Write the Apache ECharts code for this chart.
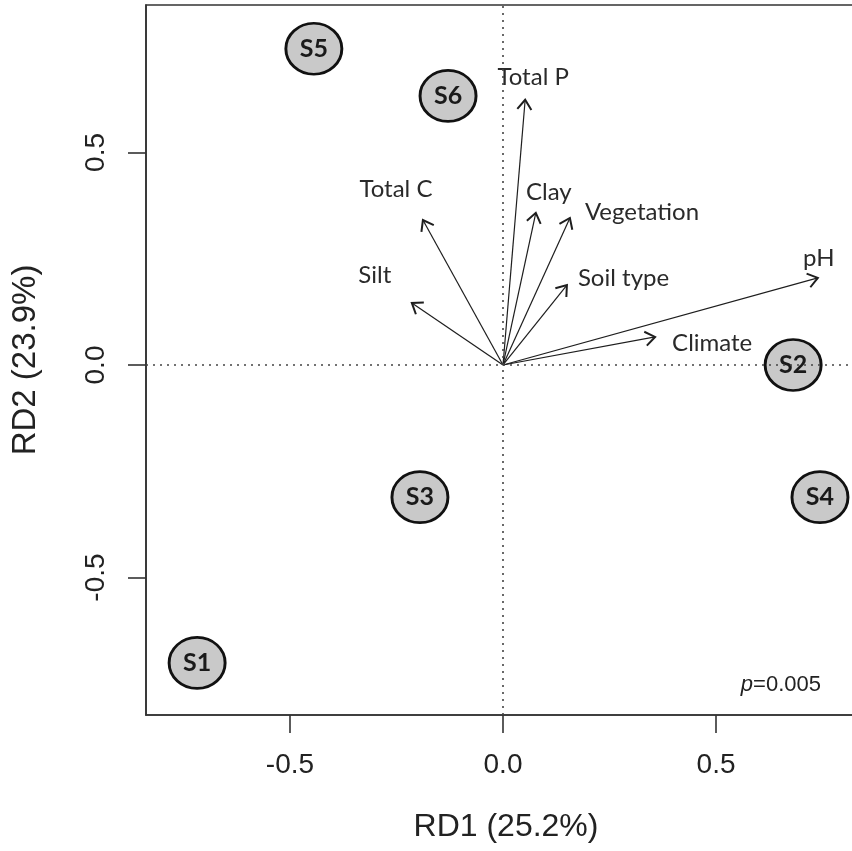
<!DOCTYPE html>
<html>
<head>
<meta charset="utf-8">
<title>RDA biplot</title>
<script src="https://cdn.jsdelivr.net/npm/echarts@6/dist/echarts.min.js"></script>
<style>
  html, body { margin: 0; padding: 0; background: #fff; }
  #chart { width: 852px; height: 851px; }
</style>
</head>
<body>
<div id="chart"></div>
<script>
// Site scores on the first two redundancy axes
const siteNames = ['S1', 'S2', 'S3', 'S4', 'S5', 'S6'];
const siteRD1 = [-0.718, 0.681, -0.195, 0.744, -0.444, -0.129];
const siteRD2 = [-0.701, 0.000, -0.311, -0.311, 0.744, 0.633];

// Environmental variable vectors (arrow tips)
const varNames = ['Total P', 'Clay', 'Vegetation', 'Soil type', 'pH', 'Climate', 'Total C', 'Silt'];
const varRD1 = [0.052, 0.077, 0.157, 0.150, 0.739, 0.357, -0.188, -0.214];
const varRD2 = [0.624, 0.358, 0.346, 0.188, 0.205, 0.066, 0.341, 0.146];

// Axis ticks and annotations
const tickValues = [-0.5, 0.0, 0.5];
const xTitle = 'RD1 (25.2%)';
const yTitle = 'RD2 (23.9%)';
const pText = '0.005';

// Label placement next to each arrow tip (pixels: dx, dy, alignment)
const vectorLabelLayout = {
  'Total P':   [8, -23, 'center'],
  'Clay':      [13, -21, 'center'],
  'Vegetation':[15, -6, 'left'],
  'Soil type': [11, -7, 'left'],
  'pH':        [1, -20, 'center'],
  'Climate':   [17, 6, 'left'],
  'Total C':   [-27, -31, 'center'],
  'Silt':      [-37, -28, 'center']
};

const sites = siteNames.map((n, i) => ({ name: n, value: [siteRD1[i], siteRD2[i]] }));
const vectors = varNames.map((n, i) => ({ name: n, value: [varRD1[i], varRD2[i]] }));

const axisFont = '"Liberation Sans", Arial, sans-serif';
const plotFont = 'Lato, "Open Sans", sans-serif';

function renderVector(params, api) {
  const o = api.coord([0, 0]);
  const t = api.coord([api.value(0), api.value(1)]);
  const ang = Math.atan2(t[1] - o[1], t[0] - o[0]);
  const arm = 12, spread = Math.PI / 5;
  const a1 = [t[0] - arm * Math.cos(ang - spread), t[1] - arm * Math.sin(ang - spread)];
  const a2 = [t[0] - arm * Math.cos(ang + spread), t[1] - arm * Math.sin(ang + spread)];
  const name = varNames[params.dataIndex];
  const lay = vectorLabelLayout[name];
  return {
    type: 'group',
    children: [
      { type: 'line', shape: { x1: o[0], y1: o[1], x2: t[0], y2: t[1] },
        style: { stroke: '#1e1e1e', lineWidth: 1.2 } },
      { type: 'polyline', shape: { points: [a1, t, a2] },
        style: { stroke: '#1e1e1e', lineWidth: 2, fill: null, lineJoin: 'miter' } },
      { type: 'text',
        style: { text: name, x: t[0] + lay[0], y: t[1] + lay[1], align: lay[2], verticalAlign: 'middle',
                 fill: '#2a2a2a', font: '24px ' + plotFont } }
    ]
  };
}

const chart = echarts.init(document.getElementById('chart'), null, { renderer: 'canvas' });

chart.setOption({
  animation: false,
  backgroundColor: '#ffffff',
  grid: {
    left: 146, top: 5, width: 740, height: 710,
    outerBoundsMode: 'none', containLabel: false,
    show: true, borderColor: '#333', borderWidth: 1.6, backgroundColor: 'transparent'
  },
  xAxis: {
    type: 'value', min: -0.838, max: 0.899,
    name: xTitle, nameLocation: 'middle', nameGap: 96,
    nameTextStyle: { fontFamily: axisFont, fontSize: 32, color: '#222', padding: [0, 20, 0, 0] },
    axisLine: { show: true, onZero: false, lineStyle: { color: '#333', width: 1.6 } },
    axisTick: { show: true, inside: false, length: 18, customValues: tickValues, lineStyle: { color: '#333', width: 1.6 } },
    axisLabel: { customValues: tickValues, margin: 36, fontFamily: axisFont, fontSize: 28, color: '#222',
                 formatter: v => v.toFixed(1) },
    splitLine: { show: false }
  },
  yAxis: {
    type: 'value', min: -0.8235, max: 0.847,
    name: yTitle, nameLocation: 'middle', nameGap: 104, nameRotate: 90,
    nameTextStyle: { fontFamily: axisFont, fontSize: 33, color: '#222' },
    axisLine: { show: true, onZero: false, lineStyle: { color: '#333', width: 1.6 } },
    axisTick: { show: true, inside: false, length: 18, customValues: tickValues, lineStyle: { color: '#333', width: 1.6 } },
    axisLabel: { customValues: tickValues, margin: 36, rotate: 90, fontFamily: axisFont, fontSize: 28, color: '#222',
                 formatter: v => v.toFixed(1) },
    splitLine: { show: false }
  },
  series: [
    {
      type: 'custom',
      name: 'variables',
      data: vectors,
      renderItem: renderVector,
      clip: false,
      z: 2
    },
    {
      type: 'scatter',
      name: 'sites',
      data: sites,
      symbol: 'circle',
      symbolSize: [56, 51],
      itemStyle: { color: '#c9c9c9', borderColor: '#111', borderWidth: 2.8, opacity: 1 },
      label: { show: true, position: 'inside', formatter: p => p.name,
               fontFamily: plotFont, fontWeight: 'bold', fontSize: 25, color: '#1a1a1a' },
      z: 3,
      markLine: {
        silent: true, symbol: 'none', z: 5,
        label: { show: false },
        lineStyle: { color: '#444', width: 1.6, type: [2, 5] },
        data: [{ xAxis: 0 }, { yAxis: 0 }]
      }
    }
  ],
  graphic: [
    {
      type: 'text', right: 31, top: 674, z: 10,
      style: {
        text: '{i|p}=' + pText,
        fill: '#222',
        font: '22px ' + axisFont,
        rich: { i: { fontStyle: 'italic', fontFamily: axisFont, fontSize: 22, fill: '#222' } }
      }
    }
  ]
});
</script>
</body>
</html>
